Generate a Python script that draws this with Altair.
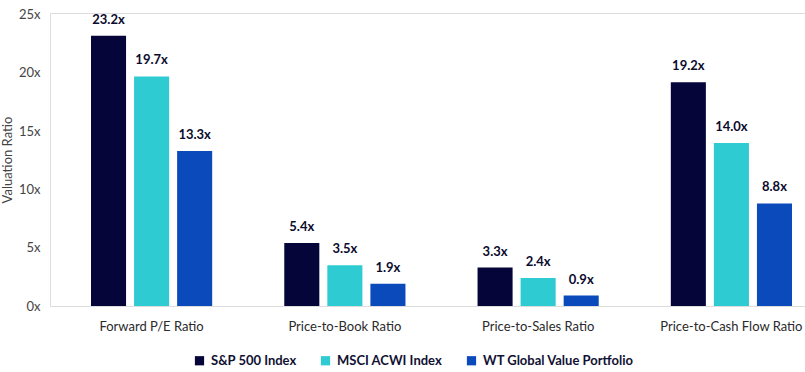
import altair as alt
import pandas as pd

metrics = ["Forward P/E Ratio", "Price-to-Book Ratio", "Price-to-Sales Ratio", "Price-to-Cash Flow Ratio"]
series = ["S&P 500 Index", "MSCI ACWI Index", "WT Global Value Portfolio"]
sp500 = [23.2, 5.4, 3.3, 19.2]
acwi = [19.7, 3.5, 2.4, 14.0]
wt_value = [13.3, 1.9, 0.9, 8.8]
colors = ["#06053a", "#2ecbd2", "#0a4abb"]

rows = []
for name, vals in zip(series, [sp500, acwi, wt_value]):
    for m, v in zip(metrics, vals):
        rows.append({"metric": m, "series": name, "value": v})
df = pd.DataFrame(rows)

FONT = "Lato"

x_enc = alt.X(
    "metric:N",
    sort=metrics,
    title=None,
    scale=alt.Scale(range=[41, 742], paddingInner=0.373, paddingOuter=0),
    axis=alt.Axis(labelAngle=0, domain=False, ticks=False, labelPadding=14,
                  labelFontSize=13, labelColor="#2a2a2a", labelFont=FONT),
)
xoff = alt.XOffset("series:N", sort=series,
                   scale=alt.Scale(paddingInner=0.186, paddingOuter=0))
y_enc = alt.Y(
    "value:Q",
    title="Valuation Ratio",
    scale=alt.Scale(domain=[0, 25.15], nice=False),
    axis=alt.Axis(values=[0, 5, 10, 15, 20, 25], labelExpr="datum.label + 'x'",
                  domain=False, ticks=False, grid=False, labelPadding=10,
                  labelFontSize=13, labelColor="#444444", labelFont=FONT,
                  titleFont=FONT, titleFontSize=13, titleFontWeight="normal",
                  titleColor="#444444", titlePadding=4),
)

bars = alt.Chart(df).mark_bar().encode(
    x=x_enc,
    xOffset=xoff,
    y=y_enc,
    color=alt.Color(
        "series:N", sort=series, title=None,
        scale=alt.Scale(domain=series, range=colors),
        legend=alt.Legend(orient="none", legendX=143, legendY=341, direction="horizontal",
                          symbolType="square", symbolSize=85, symbolStrokeWidth=0,
                          labelOffset=5,
                          labelFont=FONT, labelFontSize=13, labelFontWeight="bold",
                          labelColor="#111133", columnPadding=22, labelLimit=300),
    ),
)

labels = alt.Chart(df).transform_calculate(
    label="format(datum.value, '.1f') + 'x'"
).mark_text(baseline="bottom", dy=-9, font=FONT, fontSize=13, fontWeight="bold",
            color="#0b0b2e").encode(
    x=alt.X("metric:N", sort=metrics),
    xOffset=alt.XOffset("series:N", sort=series),
    y="value:Q",
    text="label:N",
)

chart = (bars + labels).properties(
    width=755, height=293,
    autosize=alt.AutoSizeParams(type="none"),
    padding={"left": 50, "top": 13, "right": 0, "bottom": 66},
).configure_view(stroke=None).configure(background="white")

chart.save("out.html", embed_options={"renderer": "svg", "actions": False})
